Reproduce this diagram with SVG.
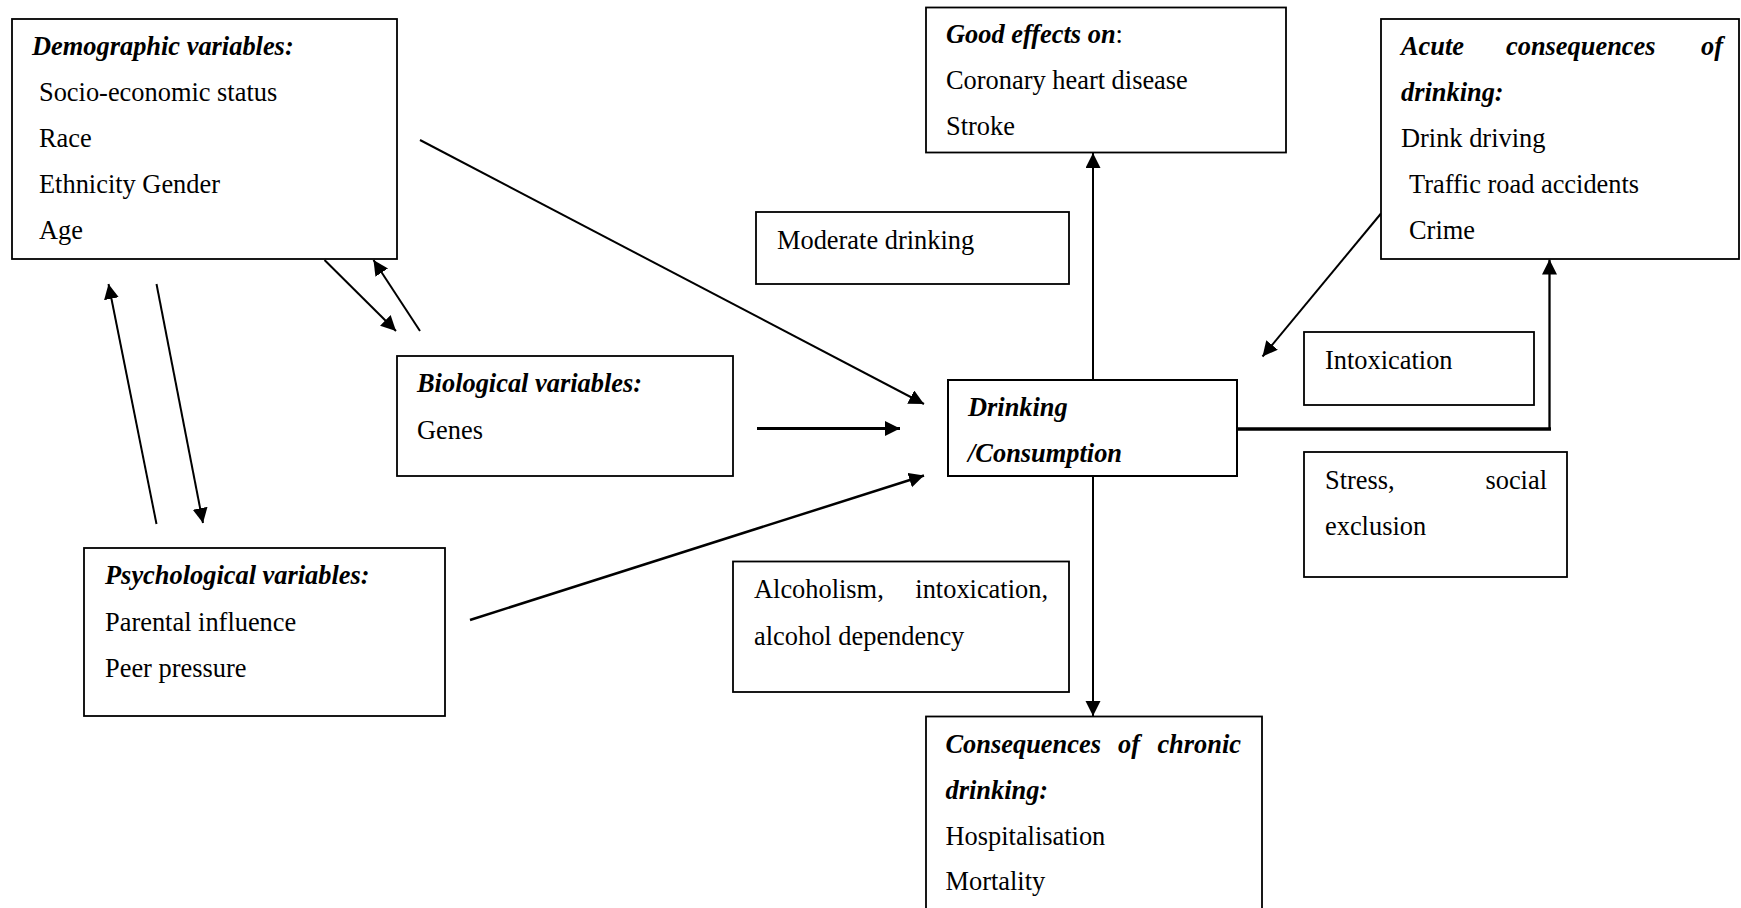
<svg xmlns="http://www.w3.org/2000/svg" width="1741" height="908" viewBox="0 0 1741 908">
  <style>
    text { font-family: "Liberation Serif", "Times New Roman", serif; font-size: 26.4px; fill: #000; }
    .h { font-weight: bold; font-style: italic; }
    .box { fill: #fff; stroke: #000; stroke-width: 1.8; }
    .ln { fill: none; stroke: #000; stroke-width: 2; }
  </style>
  <defs>
    <marker id="arrow" markerUnits="userSpaceOnUse" markerWidth="16" markerHeight="16" refX="15" refY="7.5" orient="auto">
      <path d="M0,0 L15,7.5 L0,15 Z" fill="#000"/>
    </marker>
  </defs>

  <rect width="1741" height="908" fill="#fff"/>

  <!-- connectors -->
  <g id="connectors">
    <line class="ln" x1="420" y1="140" x2="924" y2="404" marker-end="url(#arrow)"/>
    <line class="ln" x1="757" y1="428.5" x2="900" y2="428.5" style="stroke-width:3" marker-end="url(#arrow)"/>
    <line class="ln" x1="470" y1="620" x2="924" y2="475.5" style="stroke-width:2.5" marker-end="url(#arrow)"/>
    <line class="ln" x1="324.5" y1="260" x2="396" y2="331" marker-end="url(#arrow)"/>
    <line class="ln" x1="420" y1="331" x2="373.5" y2="260" marker-end="url(#arrow)"/>
    <line class="ln" x1="156.5" y1="524" x2="108.5" y2="284" marker-end="url(#arrow)"/>
    <line class="ln" x1="156.5" y1="284" x2="203" y2="523" marker-end="url(#arrow)"/>
    <line class="ln" x1="1093" y1="380" x2="1093" y2="153" marker-end="url(#arrow)"/>
    <line class="ln" x1="1093" y1="476" x2="1093" y2="716" marker-end="url(#arrow)"/>
    <line class="ln" x1="1237" y1="429" x2="1551" y2="429" style="stroke-width:3.6"/>
    <line class="ln" x1="1549.5" y1="430" x2="1549.5" y2="259.5" style="stroke-width:2.3" marker-end="url(#arrow)"/>
    <line class="ln" x1="1381" y1="213.5" x2="1262.5" y2="356.5" marker-end="url(#arrow)"/>
  </g>

  <!-- demographic variables -->
  <g id="demographic">
    <rect class="box" x="12" y="19" width="385" height="240"/>
    <text class="h" x="32" y="54.5">Demographic variables:</text>
    <text x="39" y="100.5">Socio-economic status</text>
    <text x="39" y="146.5">Race</text>
    <text x="39" y="192.5">Ethnicity Gender</text>
    <text x="39" y="238.5">Age</text>
  </g>

  <!-- biological variables -->
  <g id="biological">
    <rect class="box" x="397" y="356" width="336" height="120"/>
    <text class="h" x="417" y="392">Biological variables:</text>
    <text x="417" y="438.5">Genes</text>
  </g>

  <!-- psychological variables -->
  <g id="psychological">
    <rect class="box" x="84" y="548" width="361" height="168"/>
    <text class="h" x="105" y="584">Psychological variables:</text>
    <text x="105" y="630.5">Parental influence</text>
    <text x="105" y="677">Peer pressure</text>
  </g>

  <!-- central node -->
  <g id="drinking">
    <rect class="box" x="948" y="380" width="289" height="96" style="stroke-width:2"/>
    <text class="h" x="968" y="416">Drinking</text>
    <text class="h" x="968" y="462">/Consumption</text>
  </g>

  <!-- good effects -->
  <g id="good-effects">
    <rect class="box" x="926" y="7.5" width="360" height="145"/>
    <text x="946" y="42.5"><tspan class="h">Good effects on</tspan>:</text>
    <text x="946" y="88.5">Coronary heart disease</text>
    <text x="946" y="134.5">Stroke</text>
  </g>

  <!-- moderate drinking label -->
  <g id="moderate">
    <rect class="box" x="756" y="212" width="313" height="72"/>
    <text x="777" y="249">Moderate drinking</text>
  </g>

  <!-- acute consequences -->
  <g id="acute">
    <rect class="box" x="1381" y="19" width="358" height="240"/>
    <text class="h" x="1401" y="54.5">Acute</text>
    <text class="h" x="1506" y="54.5">consequences</text>
    <text class="h" x="1723" y="54.5" text-anchor="end">of</text>
    <text class="h" x="1401" y="100.5">drinking:</text>
    <text x="1401" y="146.5">Drink driving</text>
    <text x="1409" y="192.5">Traffic road accidents</text>
    <text x="1409" y="238.5">Crime</text>
  </g>

  <!-- intoxication label -->
  <g id="intoxication">
    <rect class="box" x="1304" y="332" width="230" height="73"/>
    <text x="1325" y="368.5">Intoxication</text>
  </g>

  <!-- stress label -->
  <g id="stress">
    <rect class="box" x="1304" y="452" width="263" height="125"/>
    <text x="1325" y="488.5">Stress,</text>
    <text x="1547" y="488.5" text-anchor="end">social</text>
    <text x="1325" y="534.5">exclusion</text>
  </g>

  <!-- alcoholism label -->
  <g id="alcoholism">
    <rect class="box" x="733" y="561.5" width="336" height="130.5"/>
    <text x="754" y="598">Alcoholism,</text>
    <text x="1048" y="598" text-anchor="end">intoxication,</text>
    <text x="754" y="645">alcohol dependency</text>
  </g>

  <!-- chronic consequences -->
  <g id="chronic">
    <rect class="box" x="926" y="716.5" width="336" height="200"/>
    <text class="h" x="945.5" y="753">Consequences</text>
    <text class="h" x="1118" y="753">of</text>
    <text class="h" x="1241" y="753" text-anchor="end">chronic</text>
    <text class="h" x="945.5" y="798.5">drinking:</text>
    <text x="945.5" y="844.5">Hospitalisation</text>
    <text x="945.5" y="890">Mortality</text>
  </g>
</svg>
